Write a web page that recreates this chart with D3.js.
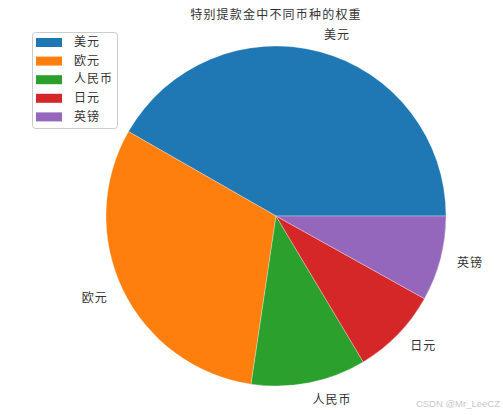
<!DOCTYPE html>
<html>
<head>
<meta charset="utf-8">
<script src="https://cdn.jsdelivr.net/npm/d3@7"></script>
<style>
  body { margin: 0; background: #fff; }
  text { font-family: "Noto Sans CJK SC", sans-serif; }
</style>
</head>
<body>
<div id="chart"></div>
<script>
const labels = ["美元", "欧元", "人民币", "日元", "英镑"];
const weights = [41.73, 30.93, 10.92, 8.33, 8.09];
const colors = ["#1f77b4", "#ff7f0e", "#2ca02c", "#d62728", "#9467bd"];

const W = 503, H = 415;
const cx = 276, cy = 216, r = 170;

const svg = d3.select("#chart").append("svg")
    .attr("width", W)
    .attr("height", H);

svg.append("text")
    .attr("x", 276)
    .attr("y", 19)
    .attr("text-anchor", "middle")
    .attr("font-size", "12px")
    .attr("letter-spacing", "1.2px")
    .attr("fill", "#333")
    .text("特别提款金中不同币种的权重");

// matplotlib style: start at 3 o'clock, go counterclockwise
const pie = d3.pie().sort(null)
    .startAngle(Math.PI / 2)
    .endAngle(Math.PI / 2 - 2 * Math.PI);

const arcs = pie(weights);
const arc = d3.arc().innerRadius(0).outerRadius(r);

const g = svg.append("g").attr("transform", "translate(" + cx + "," + cy + ")");

g.selectAll("path")
    .data(arcs)
    .enter().append("path")
    .attr("d", arc)
    .attr("fill", (d, i) => colors[i])
    .attr("stroke", "#fff")
    .attr("stroke-width", 0.3);

g.selectAll(".lbl")
    .data(arcs)
    .enter().append("text")
    .attr("class", "lbl")
    .each(function(d, i) {
        const mid = (d.startAngle + d.endAngle) / 2;
        const x = Math.sin(mid) * r * 1.1;
        const y = -Math.cos(mid) * r * 1.1;
        d3.select(this)
            .attr("x", x)
            .attr("y", y)
            .attr("dy", "0.35em")
            .attr("text-anchor", x > 0 ? "start" : "end")
            .attr("font-size", "12px")
            .attr("letter-spacing", "1px")
            .attr("fill", "#333")
            .text(labels[i]);
    });

// legend
const leg = svg.append("g").attr("transform", "translate(32,32)");
leg.append("rect")
    .attr("x", 0.5).attr("y", 0.5)
    .attr("width", 85).attr("height", 96)
    .attr("rx", 3)
    .attr("fill", "#fff")
    .attr("fill-opacity", 0.8)
    .attr("stroke", "#ccc");

labels.forEach((lab, i) => {
    const yy = 10 + i * 18.6;
    leg.append("rect")
        .attr("x", 4).attr("y", yy - 4)
        .attr("width", 26).attr("height", 9)
        .attr("fill", colors[i]);
    leg.append("text")
        .attr("x", 42).attr("y", yy)
        .attr("dy", "0.35em")
        .attr("font-size", "12px")
        .attr("letter-spacing", "1px")
        .attr("fill", "#333")
        .text(lab);
});

svg.append("text")
    .attr("x", 500)
    .attr("y", 407)
    .attr("text-anchor", "end")
    .attr("font-size", "9.5px")
    .attr("fill", "#c8c8c8")
    .style("font-family", "Arial, 'Liberation Sans', sans-serif")
    .text("CSDN @Mr_LeeCZ");
</script>
</body>
</html>
